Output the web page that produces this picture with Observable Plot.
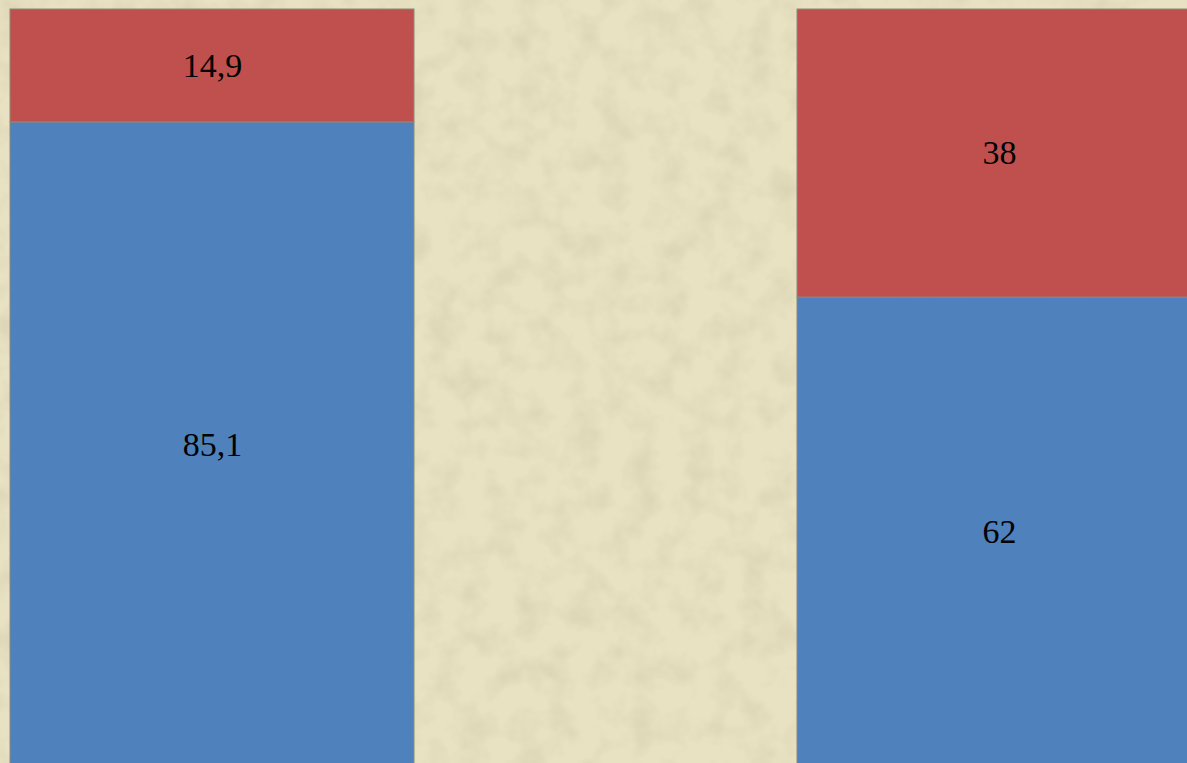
<!DOCTYPE html>
<html>
<head>
<meta charset="utf-8">
<script src="https://cdn.jsdelivr.net/npm/d3@7"></script>
<script src="https://cdn.jsdelivr.net/npm/@observablehq/plot@0.6"></script>
<style>
  html, body { margin: 0; padding: 0; width: 1187px; height: 763px; overflow: hidden; background: #e7e1c0; }
  #tex { position: absolute; left: 0; top: 0; }
  #chart { position: absolute; left: 0; top: 0; }
</style>
</head>
<body>
<svg id="tex" width="1187" height="763">
  <filter id="paper" x="0" y="0" width="100%" height="100%">
    <feTurbulence type="fractalNoise" baseFrequency="0.035" numOctaves="3" seed="4" result="n"/>
    <feColorMatrix in="n" type="matrix" values="0 0 0 0 0.55  0 0 0 0 0.52  0 0 0 0 0.35  0 0 0 -1.6 0.95"/>
  </filter>
  <rect width="1187" height="763" fill="#e8e2c2"/>
  <rect width="1187" height="763" filter="url(#paper)" opacity="0.45"/>
</svg>
<div id="chart"></div>
<script>
const categories = ["A", "B"];
const seriesNames = ["Синий", "Красный"];
const blueValues = [85.1, 62];
const redValues = [14.9, 38];
const valueLabels = [["85,1", "62"], ["14,9", "38"]];
const colors = ["#4f81bd", "#c0504d"];

const data = [];
categories.forEach((c, i) => {
  data.push({cat: c, series: seriesNames[0], value: blueValues[i], label: valueLabels[0][i]});
  data.push({cat: c, series: seriesNames[1], value: redValues[i], label: valueLabels[1][i]});
});

const chart = Plot.plot({
  width: 1187,
  height: 763,
  margin: 0,
  style: {background: "transparent", overflow: "hidden"},
  x: {domain: categories, range: [10, 1201], paddingInner: 0.4867, paddingOuter: 0, axis: null},
  y: {domain: [0, 100], range: [767, 9], axis: null},
  color: {domain: seriesNames, range: colors},
  marks: [
    Plot.barY(data, Plot.stackY({
      x: "cat", y: "value", fill: "series", z: "series", order: seriesNames,
      stroke: "#8c8a78", strokeWidth: 1
    })),
    Plot.text(data, Plot.stackY({
      x: "cat", y: "value", z: "series", order: seriesNames, text: "label",
      fontFamily: "Liberation Serif, Times New Roman, serif", fontSize: 34, fill: "#000"
    }))
  ]
});
document.getElementById("chart").appendChild(chart);
</script>
</body>
</html>
